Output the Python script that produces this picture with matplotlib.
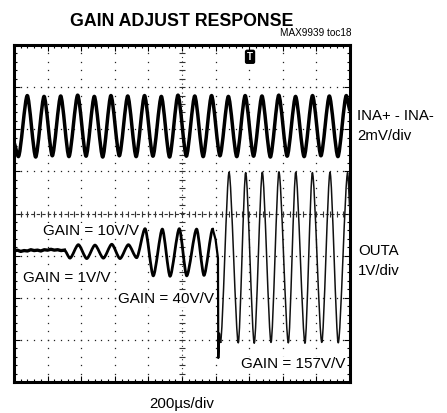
import numpy as np
import matplotlib
matplotlib.use("Agg")
import matplotlib.pyplot as plt
from matplotlib.ticker import MultipleLocator
from matplotlib.path import Path
from matplotlib.patches import PathPatch

plt.rcParams['font.family'] = ['Liberation Sans', 'DejaVu Sans']

# ---- data (time in microseconds, amplitude in screen divisions) ----
# INA+ - INA- (2mV/div) extrema
ina_t = [0, 26, 79, 129, 179, 228, 278, 327, 379, 429, 478, 528, 577, 627, 677,
         727, 777, 827, 877, 926, 976, 1026, 1076, 1126, 1176, 1226, 1276, 1326,
         1376, 1426, 1476, 1526, 1576, 1626, 1676, 1727, 1777, 1827, 1877, 1928,
         1978, 2000]
ina_v = [1.67, 1.35, 2.80, 1.34, 2.78, 1.37, 2.79, 1.35, 2.81, 1.36, 2.78, 1.34,
         2.80, 1.37, 2.79, 1.35, 2.80, 1.36, 2.78, 1.34, 2.81, 1.36, 2.79, 1.35,
         2.80, 1.37, 2.78, 1.35, 2.80, 1.36, 2.79, 1.34, 2.81, 1.36, 2.78, 1.35,
         2.80, 1.37, 2.79, 1.35, 2.80, 2.45]

# OUTA (1V/div): gain 1 V/V (noisy flat level)
outa_g1_t = [0, 20, 40, 60, 80, 100, 120, 140, 160, 180, 200, 220, 240, 260, 280, 300]
outa_g1_v = [-0.89, -0.87, -0.90, -0.88, -0.89, -0.86, -0.88, -0.87, -0.89, -0.86,
             -0.87, -0.85, -0.87, -0.86, -0.88, -0.87]
# OUTA: gains 10 and 40 V/V, extrema
outa_mid_t = [300, 333, 383, 433, 482, 532, 582, 631, 681, 730, 780, 829, 883, 929,
              984, 1028, 1087, 1131, 1183]
outa_mid_v = [-0.87, -1.06, -0.74, -1.07, -0.75, -1.06, -0.73, -1.07, -0.74, -1.05,
              -0.36, -1.48, -0.37, -1.49, -0.36, -1.48, -0.37, -1.47, -0.37]
# OUTA: switching glitch
outa_glitch_t = [1183, 1200, 1214, 1216, 1221, 1229]
outa_glitch_v = [-0.37, -0.62, -1.06, -3.43, -2.85, -3.05]
# OUTA: gain 157 V/V, extrema
outa_high_t = [1229, 1280, 1335, 1379, 1430, 1478, 1530, 1577, 1633, 1677, 1732,
               1776, 1832, 1881, 1930, 1986, 2000]
outa_high_v = [-3.05, 0.98, -3.07, 0.97, -3.08, 0.98, -3.06, 0.99, -3.07, 0.98,
               -3.08, 0.97, -3.06, 0.98, -3.07, 0.97, 0.10]

gain_labels = ["GAIN = 10V/V", "GAIN = 1V/V", "GAIN = 40V/V", "GAIN = 157V/V"]
trigger_t = 1405

W, H = 447, 413
fig = plt.figure(figsize=(W / 100, H / 100), dpi=100)
def fx(px): return px / W
def fy(py): return 1 - py / H

ax = fig.add_axes([fx(14), fy(382), fx(350) - fx(14), fy(45) - fy(382)])
ax.set_xlim(0, 2000)
ax.set_ylim(-4, 4)


def smooth_trace(t, v, lw, color='black', d=0.26):
    """Smooth curve through the read extrema (flat tangents at each extremum)."""
    verts = [(t[0], v[0])]
    codes = [Path.MOVETO]
    for (t0, v0), (t1, v1) in zip(zip(t[:-1], v[:-1]), zip(t[1:], v[1:])):
        dt = t1 - t0
        verts += [(t0 + d * dt, v0), (t1 - d * dt, v1), (t1, v1)]
        codes += [Path.CURVE4] * 3
    patch = PathPatch(Path(verts, codes), fill=False, lw=lw, ec=color,
                      capstyle='round', joinstyle='round', zorder=3)
    ax.add_patch(patch)


# grid dots
for k in range(1, 10):
    if k == 5:
        continue
    yy = np.arange(-4, 4.001, 0.2)
    ax.plot(np.full_like(yy, k * 200), yy, ls='none', marker='s', ms=0.9, color='#222', mew=0)
for k in range(-3, 4):
    if k == 0:
        continue
    xx = np.arange(0, 2000.1, 40)
    ax.plot(xx, np.full_like(xx, k), ls='none', marker='s', ms=0.9, color='#222', mew=0)
# centre axes with ticks
ax.axhline(0, color='#333', lw=0.8, ls=(0, (3, 2)))
xx = np.arange(0, 2000.1, 40)
ax.plot(xx, np.zeros_like(xx), ls='none', marker='|', ms=4, mew=0.8, color='#333')
ax.axvline(1000, color='#333', lw=0.8, ls=(0, (1, 3)))
yy = np.arange(-4, 4.001, 0.2)
ax.plot(np.full_like(yy, 1000), yy, ls='none', marker='_', ms=4, mew=0.8, color='#333')

# traces
smooth_trace(ina_t, ina_v, 2.5)
ax.plot(outa_g1_t, outa_g1_v, color='black', lw=2.4, solid_joinstyle='round', zorder=3)
smooth_trace(outa_mid_t, outa_mid_v, 2.0)
ax.plot(outa_glitch_t, outa_glitch_v, color='black', lw=1.6, solid_joinstyle='round', zorder=3)
smooth_trace(outa_high_t, outa_high_v, 1.1, color='#111')

# trigger marker
ax.text(trigger_t, 3.72, 'T', color='white', fontsize=7, fontweight='bold',
        ha='center', va='center',
        bbox=dict(boxstyle='round,pad=0.15', fc='black', ec='black'))

# frame and ticks
for s in ax.spines.values():
    s.set_linewidth(2.2)
ax.xaxis.set_major_locator(MultipleLocator(200))
ax.xaxis.set_minor_locator(MultipleLocator(40))
ax.yaxis.set_major_locator(MultipleLocator(1))
ax.yaxis.set_minor_locator(MultipleLocator(0.2))
ax.tick_params(which='both', direction='in', top=True, right=True,
               labelbottom=False, labelleft=False, width=0.8)
ax.tick_params(which='major', length=4)
ax.tick_params(which='minor', length=2.5)

# texts
fig.text(fx(182), fy(26), "GAIN ADJUST RESPONSE", fontsize=12.8, fontweight='bold',
         ha='center', va='baseline')
fig.text(fx(351), fy(36.5), "MAX9939 toc18", fontsize=7.2, ha='right', va='baseline')
fig.text(fx(357), fy(120.5), "INA+ - INA-", fontsize=10.8, ha='left', va='baseline')
fig.text(fx(357), fy(139.5), "2mV/div", fontsize=10.8, ha='left', va='baseline')
fig.text(fx(358), fy(255), "OUTA", fontsize=10.8, ha='left', va='baseline')
fig.text(fx(358), fy(275), "1V/div", fontsize=10.8, ha='left', va='baseline')
fig.text(fx(182), fy(408), "200\u00b5s/div", fontsize=10.8, ha='center', va='baseline')

label_pos = [(43, 234.7), (23, 281.7), (118, 303.3), (241, 368)]
for lab, (px, py) in zip(gain_labels, label_pos):
    fig.text(fx(px), fy(py), lab, fontsize=11, ha='left', va='baseline',
             bbox=dict(fc='white', ec='none', pad=0.3))

fig.savefig("out.png", dpi=100)
